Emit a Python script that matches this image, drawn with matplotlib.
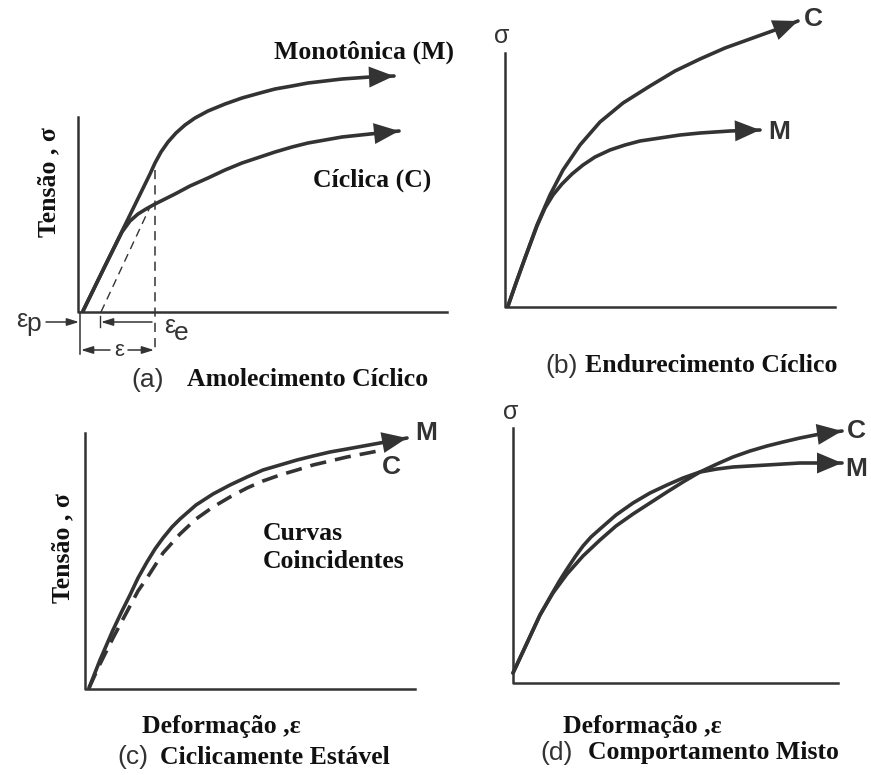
import numpy as np
import matplotlib.pyplot as plt

# all coordinates are pixel positions (y grows downward)

# (a) Amolecimento Ciclico
a_axis_x = [78, 78, 447]
a_axis_y = [117, 312, 312]
a_mono_x = [83, 105, 128, 150, 155, 161, 168, 176, 185, 195, 208, 225, 242, 260,
            275, 292, 308, 325, 342, 370, 394]
a_mono_y = [311, 266, 219, 174, 163, 152, 142, 133, 125, 118, 111, 104, 98, 93,
            89, 86, 83, 81, 79, 77, 76]
a_cyc_x = [83, 105, 122, 130, 138, 146, 155, 165, 175, 190, 208, 225, 242, 260,
           275, 292, 308, 325, 342, 370, 399]
a_cyc_y = [311, 266, 232, 221, 214, 209, 204, 199, 194, 186, 178, 170, 163, 157,
           152, 147, 143, 140, 137, 134, 131]
a_unload_x = [101, 150]
a_unload_y = [312, 207]
a_strain_x = 155
a_strain_top = 170

# (b) Endurecimento Ciclico
b_axis_x = [505, 505, 835]
b_axis_y = [53, 307, 307]
b_cyc_x = [508, 516, 525, 537, 550, 563, 580, 600, 623, 650, 675, 700, 725, 750, 775, 798]
b_cyc_y = [306, 283, 258, 225, 195, 170, 145, 122, 103, 86, 71, 59, 48, 39, 30, 21]
b_mono_x = [508, 516, 525, 537, 545, 553, 562, 572, 583, 595, 610, 625, 640, 660,
            680, 700, 730, 760]
b_mono_y = [306, 283, 258, 226, 208, 195, 184, 174, 165, 157, 150, 145, 141, 138,
            135, 133, 131, 130]

# (c) Ciclicamente Estavel
c_axis_x = [85, 85, 415]
c_axis_y = [433, 689, 689]
c_mono_x = [89, 100, 113, 122, 130, 138, 147, 155, 163, 172, 180, 196, 213, 230,
            247, 263, 280, 297, 313, 330, 347, 380, 407]
c_mono_y = [688, 660, 630, 611, 595, 578, 562, 549, 538, 527, 519, 505, 494, 485,
            477, 470, 465, 460, 456, 452, 449, 443, 438]
c_cyc_x = [89, 100, 113, 122, 130, 138, 147, 163, 180, 196, 213, 230, 247, 263,
           280, 297, 313, 347, 378]
c_cyc_y = [688, 664, 638, 621, 606, 591, 578, 553, 534, 519, 507, 497, 488, 481,
           475, 470, 465, 457, 451]

# (d) Comportamento Misto
d_axis_x = [513, 513, 838]
d_axis_y = [428, 683, 683]
d_mono_x = [513, 527, 540, 553, 560, 567, 575, 583, 591, 600, 616, 633, 650, 667,
            683, 700, 717, 733, 767, 800, 842]
d_mono_y = [673, 643, 615, 592, 580, 569, 557, 546, 537, 529, 515, 503, 493, 485,
            478, 472, 469, 467, 465, 463, 463]
d_cyc_x = [513, 527, 540, 553, 567, 583, 600, 616, 633, 650, 667, 683, 700, 717,
           733, 750, 767, 783, 800, 820, 842]
d_cyc_y = [673, 643, 615, 593, 574, 556, 540, 526, 514, 503, 492, 482, 472, 464,
           457, 451, 446, 442, 438, 434, 431]

ink = '#333333'
dark = '#111111'
serif = 'Liberation Serif'
sans = 'Liberation Sans'
fs_serif = 18.5
fs_sans = 19

fig = plt.figure(figsize=(8.71, 7.75), dpi=100)
ax = fig.add_axes([0, 0, 1, 1])
ax.set_xlim(0, 871)
ax.set_ylim(775, 0)
ax.axis('off')


def curve(xs, ys, ls='-'):
    ax.plot(xs, ys, color=ink, lw=2.6, ls=ls, solid_capstyle='round',
            solid_joinstyle='round')


def big_arrow(xs, ys):
    ax.annotate('', xy=(xs[-1], ys[-1]), xytext=(xs[-2], ys[-2]),
                arrowprops=dict(arrowstyle='-|>,head_length=1.0,head_width=0.42',
                                mutation_scale=18, color=ink, lw=0,
                                shrinkA=0, shrinkB=0))


def small_arrow(x0, y0, x1, y1):
    ax.annotate('', xy=(x1, y1), xytext=(x0, y0),
                arrowprops=dict(arrowstyle='-|>,head_length=0.8,head_width=0.25',
                                mutation_scale=9, color=ink, lw=1.1,
                                shrinkA=0, shrinkB=0))


def serif_text(x, y, s, **kw):
    ax.text(x, y, s, family=serif, weight='bold', fontsize=fs_serif,
            va='center', color=dark, **kw)


def sans_text(x, y, s, size=fs_sans, **kw):
    ax.text(x, y, s, family=sans, fontsize=size, va='center', color=ink, **kw)


for axx, axy in [(a_axis_x, a_axis_y), (b_axis_x, b_axis_y),
                 (c_axis_x, c_axis_y), (d_axis_x, d_axis_y)]:
    ax.plot(axx, axy, color=ink, lw=1.8)

# panel (a)
curve(a_mono_x, a_mono_y)
big_arrow(a_mono_x, a_mono_y)
curve(a_cyc_x, a_cyc_y)
big_arrow(a_cyc_x, a_cyc_y)
ax.plot(a_unload_x, a_unload_y, color=ink, lw=1.0, ls=(0, (6, 4)))
ax.plot([a_strain_x, a_strain_x], [a_strain_top, 353], color=ink, lw=1.1, ls=(0, (6, 4)))
ax.plot([80, 80], [312, 354], color=ink, lw=1.1)
ax.plot([100, 100], [316, 327], color=ink, lw=1.0)
small_arrow(46, 322, 79, 322)
small_arrow(152, 322, 101, 322)
small_arrow(110, 350, 81, 350)
small_arrow(128, 350, 154, 350)
sans_text(27, 320, 'ε', size=18, ha='right')
sans_text(26, 324, 'p', size=19, ha='left')
sans_text(175, 326, 'ε', size=18, ha='right')
sans_text(174, 333, 'e', size=19, ha='left')
sans_text(119, 351, 'ε', size=16, ha='center')
serif_text(364, 52, 'Monotônica (M)', ha='center')
serif_text(372, 180, 'Cíclica (C)', ha='center')
serif_text(49, 182, 'Tensão , σ', rotation=90, ha='center')
sans_text(148, 380, '(a)', ha='center')
serif_text(187, 380, 'Amolecimento Cíclico', ha='left')

# panel (b)
curve(b_cyc_x, b_cyc_y)
big_arrow(b_cyc_x, b_cyc_y)
curve(b_mono_x, b_mono_y)
big_arrow(b_mono_x, b_mono_y)
sans_text(502, 36, 'σ', size=18, ha='center')
sans_text(813, 19, 'C', ha='center', weight='bold')
sans_text(779, 132, 'M', ha='center', weight='bold')
sans_text(562, 366, '(b)', ha='center')
serif_text(585, 366, 'Endurecimento Cíclico', ha='left')

# panel (c)
curve(c_mono_x, c_mono_y)
big_arrow(c_mono_x, c_mono_y)
curve(c_cyc_x, c_cyc_y, ls=(0, (4.5, 2.5)))
sans_text(426, 433, 'M', ha='center', weight='bold')
sans_text(391, 467, 'C', ha='center', weight='bold')
serif_text(263, 533, 'Curvas', ha='left')
serif_text(263, 562, 'Coincidentes', ha='left')
serif_text(63, 548, 'Tensão , σ', rotation=90, ha='center')
serif_text(221, 727, 'Deformação ,ε', ha='center')
sans_text(133, 757, '(c)', ha='center')
serif_text(160, 757, 'Ciclicamente Estável', ha='left')

# panel (d)
curve(d_mono_x, d_mono_y)
big_arrow(d_mono_x, d_mono_y)
curve(d_cyc_x, d_cyc_y)
big_arrow(d_cyc_x, d_cyc_y)
sans_text(511, 412, 'σ', size=18, ha='center')
sans_text(856, 431, 'C', ha='center', weight='bold')
sans_text(856, 469, 'M', ha='center', weight='bold')
serif_text(642, 727, 'Deformação ,ε', ha='center')
sans_text(557, 753, '(d)', ha='center')
serif_text(588, 753, 'Comportamento Misto', ha='left')

fig.savefig('out.png', dpi=100)
